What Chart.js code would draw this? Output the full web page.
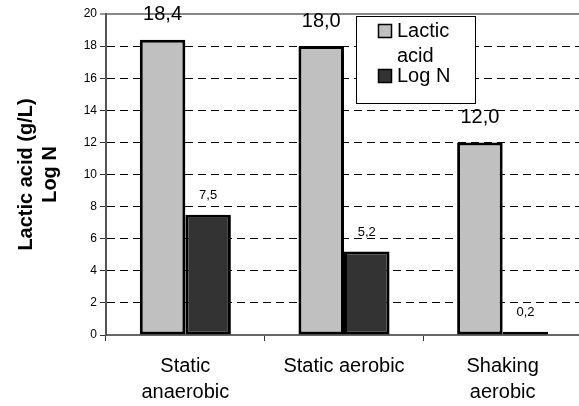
<!DOCTYPE html>
<html><head><meta charset="utf-8">
<script src="https://cdn.jsdelivr.net/npm/chart.js@4"></script>
<style>html,body{margin:0;padding:0;overflow:hidden;background:#fff}#wrap{width:582px;height:406px}</style>
</head><body><div id="wrap"><canvas id="c" width="582" height="406"></canvas></div>
<script>
const categories = [['Static', 'anaerobic'], 'Static aerobic', ['Shaking', 'aerobic']];
const seriesNames = ['Lactic acid', 'Log N'];
const lacticAcid = [18.4, 18.0, 12.0];
const logN = [7.5, 5.2, 0.2];
const yMin = 0, yMax = 20, yStep = 2;
const yTitle = ['Lactic acid (g/L)', 'Log N'];

const FAMILY = '"Liberation Sans", Arial, sans-serif';
Chart.defaults.font.family = FAMILY;
Chart.defaults.color = '#000';

const fmt = v => v.toFixed(1).replace('.', ',');

const valueLabels = {
  id: 'valueLabels',
  afterDatasetsDraw(chart) {
    const ctx = chart.ctx;
    chart.data.datasets.forEach((ds, di) => {
      const meta = chart.getDatasetMeta(di);
      const big = di === 0;
      ctx.save();
      ctx.font = (big ? '20px ' : '13px ') + FAMILY;
      ctx.fillStyle = '#000';
      ctx.textAlign = 'center';
      ctx.textBaseline = 'middle';
      meta.data.forEach((el, i) => {
        ctx.fillText(fmt(ds.data[i]), el.x, el.y - (big ? 25 : 19));
      });
      ctx.restore();
    });
  }
};

const boxLegend = {
  id: 'boxLegend',
  afterDraw(chart) {
    const ctx = chart.ctx;
    const bx = 356, by = 16, bw = 119, bh = 87;
    ctx.save();
    ctx.fillStyle = '#fff';
    ctx.fillRect(bx, by, bw, bh);
    ctx.strokeStyle = '#000';
    ctx.lineWidth = 1;
    ctx.strokeRect(bx + 0.5, by + 0.5, bw, bh);
    ctx.font = '20px ' + FAMILY;
    ctx.textBaseline = 'middle';
    ctx.textAlign = 'left';
    const maxW = 72;
    let y = 31;
    chart.data.datasets.forEach((ds, di) => {
      const words = ds.label.split(' ');
      const lines = [];
      let cur = '';
      words.forEach(w => {
        const t = cur ? cur + ' ' + w : w;
        if (cur && ctx.measureText(t).width > maxW) { lines.push(cur); cur = w; } else cur = t;
      });
      lines.push(cur);
      ctx.fillStyle = ds.backgroundColor;
      ctx.fillRect(378, y - 7, 14, 14);
      ctx.strokeStyle = '#000';
      ctx.lineWidth = 1.5;
      ctx.strokeRect(378.5, y - 6.5, 13, 13);
      ctx.fillStyle = '#000';
      lines.forEach((ln, k) => {
        ctx.fillText(ln, 397, y + k * 25);
      });
      y += (lines.length - 1) * 25 + 20;
    });
    ctx.restore();
  }
};

new Chart(document.getElementById('c'), {
  type: 'bar',
  data: {
    labels: categories,
    datasets: [
      { label: seriesNames[0], data: lacticAcid, backgroundColor: '#c0c0c0', borderColor: '#000', borderWidth: 3, borderSkipped: false },
      { label: seriesNames[1], data: logN, backgroundColor: '#333333', borderColor: '#000', borderWidth: 3, borderSkipped: false }
    ]
  },
  options: {
    responsive: false,
    animation: false,
    events: [],
    layout: { padding: { top: 14, left: 0, right: 0, bottom: 0 } },
    datasets: { bar: { barPercentage: 1, categoryPercentage: 0.574 } },
    plugins: { legend: { display: false }, tooltip: { enabled: false } },
    scales: {
      x: {
        grid: { offset: true, drawOnChartArea: false, tickLength: 6, tickColor: '#333', tickWidth: 1 },
        border: { color: '#666', width: 2 },
        ticks: { font: { size: 20, lineHeight: 1.3 }, color: '#000', padding: 12, maxRotation: 0, autoSkip: false },
        afterFit: s => { s.height = 71; }
      },
      y: {
        min: yMin, max: yMax,
        ticks: { stepSize: yStep, font: { size: 12 }, color: '#000', padding: 3 },
        grid: {
          color: c => (c.tick && c.tick.value === yMin) ? 'rgba(0,0,0,0)' : (c.tick && c.tick.value === yMax ? '#888' : '#000'),
          lineWidth: c => (c.tick && c.tick.value === yMax) ? 2 : 1,
          tickLength: 6, tickColor: '#333', tickWidth: 1
        },
        border: {
          color: '#555', width: 2,
          dash: c => (c.tick && c.tick.value !== yMax) ? [8, 5] : []
        },
        title: { display: true, text: yTitle, color: '#000', font: { size: 20, weight: 'bold', lineHeight: 1.2 }, padding: { top: 14, bottom: 0 } },
        afterFit: s => { s.width = 106; }
      }
    }
  },
  plugins: [valueLabels, boxLegend]
});
</script>
</body></html>
